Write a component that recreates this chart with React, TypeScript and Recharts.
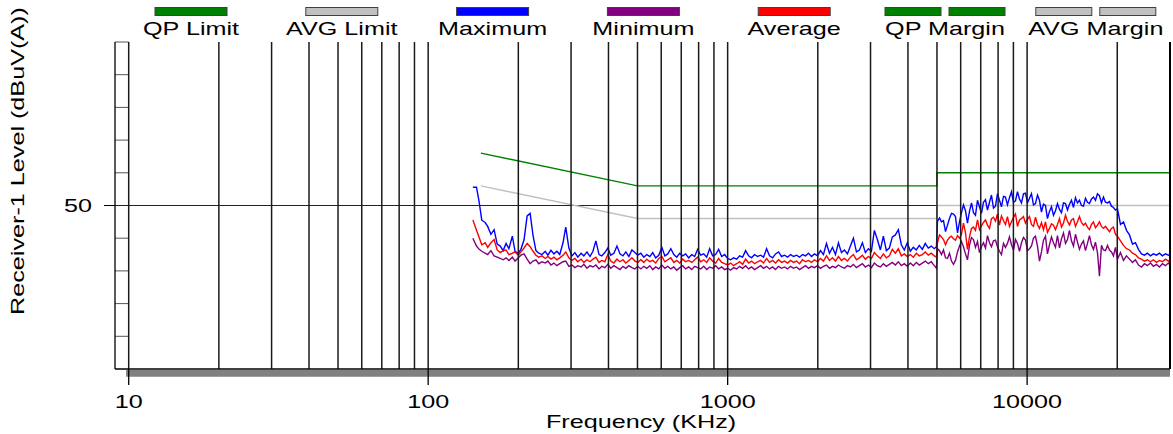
import React from "react";
import { LineChart, Line, XAxis, YAxis, ReferenceLine, ReferenceArea } from "recharts";

// sample frequencies in kHz (band 1: 140k-5M, band 2: 5M-20M, band 3: 20M-30M)
const freqKHz = [
  141, 145, 148, 151, 155, 158, 162, 166, 170, 174,
  178, 182, 186, 191, 195, 200, 204, 209, 214, 219,
  224, 229, 234, 240, 246, 251, 257, 263, 269, 275,
  282, 288, 295, 302, 309, 316, 324, 331, 339, 347,
  355, 363, 372, 380, 389, 398, 407, 417, 427, 437,
  447, 457, 468, 479, 490, 501, 513, 525, 537, 550,
  562, 575, 589, 603, 617, 631, 646, 661, 676, 692,
  708, 724, 741, 759, 776, 794, 813, 832, 851, 871,
  891, 912, 933, 955, 977, 1000, 1023, 1047, 1072, 1096,
  1122, 1148, 1175, 1202, 1230, 1259, 1288, 1318, 1349, 1380,
  1413, 1445, 1479, 1514, 1549, 1585, 1622, 1660, 1698, 1738,
  1778, 1820, 1862, 1905, 1950, 1995, 2042, 2089, 2138, 2188,
  2239, 2291, 2344, 2399, 2455, 2512, 2570, 2630, 2692, 2754,
  2818, 2884, 2951, 3020, 3090, 3162, 3236, 3311, 3388, 3467,
  3548, 3631, 3715, 3802, 3890, 3981, 4074, 4169, 4266, 4365,
  4467, 4571, 4677, 4786, 4898, 4980,
  5020, 5098, 5177, 5257, 5339, 5421, 5505, 5591, 5677, 5765,
  5855, 5945, 6037, 6131, 6226, 6322, 6420, 6520, 6621, 6723,
  6827, 6933, 7040, 7149, 7260, 7373, 7487, 7603, 7721, 7840,
  7962, 8085, 8210, 8338, 8467, 8598, 8731, 8867, 9004, 9144,
  9286, 9430, 9576, 9724, 9875, 10028, 10183, 10341, 10501, 10664,
  10829, 10997, 11167, 11340, 11516, 11694, 11876, 12060, 12247, 12436,
  12629, 12825, 13023, 13225, 13430, 13638, 13849, 14064, 14282, 14503,
  14728, 14956, 15188, 15423, 15662, 15905, 16151, 16401, 16655, 16913,
  17176, 17442, 17712, 17986, 18265, 18548, 18835, 19127, 19423, 19724,
  20030,
  20500, 20980, 21470, 21970, 22480, 23000, 23540, 24090, 24650, 25220,
  25810, 26410, 27030, 27660, 28300, 28960, 29640, 30000,
];

const maxLevel = [
  55.6, 55.6, 51.0, 45.5, 44.8, 43.6, 41.2, 42.6, 38.2, 37.6,
  36.2, 38.4, 36.8, 40.6, 36.0, 35.4, 36.6, 39.5, 46.8, 47.6,
  40.8, 36.2, 35.4, 35.0, 36.0, 34.8, 36.3, 35.2, 36.0, 35.0,
  38.6, 43.4, 37.0, 34.6, 35.6, 34.2, 35.4, 34.6, 35.8, 34.4,
  36.0, 39.2, 35.0, 34.6, 35.6, 37.0, 34.8, 35.4, 37.6, 35.2,
  34.6, 35.8, 34.4, 36.4, 35.6, 34.8, 35.4, 34.2, 35.0, 34.4,
  35.6, 34.0, 34.8, 37.2, 34.6, 35.2, 36.8, 35.0, 34.2, 35.4,
  34.6, 35.2, 34.0, 35.0, 34.4, 36.6, 34.8, 35.2, 34.2, 36.8,
  34.6, 35.0, 36.6, 34.4, 35.0, 33.8, 33.4, 34.0, 33.6, 34.6,
  34.2, 36.2, 34.6, 34.0, 35.0, 34.4, 34.8, 34.2, 36.8, 34.6,
  34.0, 35.2, 35.8, 34.4, 34.8, 34.2, 35.0, 34.4, 34.8, 34.2,
  35.0, 34.6, 35.4, 34.4, 35.2, 34.6, 36.2, 35.0, 38.4, 35.4,
  37.2, 35.0, 38.6, 35.6, 36.4, 35.2, 37.6, 40.0, 35.8, 36.4,
  38.6, 35.6, 36.8, 36.0, 42.4, 39.6, 36.4, 40.6, 36.2, 37.0,
  40.4, 41.0, 42.6, 38.0, 36.4, 38.6, 36.0, 37.2, 36.4, 37.8,
  36.6, 38.4, 37.0, 37.6, 36.8, 37.4,
  45.2, 46.2, 45.0, 45.4, 42.0, 44.0, 46.0, 47.6, 47.4, 46.6,
  41.6, 45.0, 47.8, 50.2, 48.4, 44.6, 48.2, 50.8, 47.8, 47.0,
  51.6, 49.6, 47.6, 51.0, 51.8, 48.6, 51.0, 53.2, 49.2, 49.8,
  53.6, 51.6, 49.6, 52.8, 52.6, 50.2, 52.4, 54.2, 51.0, 51.4,
  54.2, 52.0, 50.8, 53.6, 53.8, 50.8, 52.2, 53.6, 50.2, 50.6,
  53.2, 51.6, 48.0, 50.4, 50.0, 46.0, 48.2, 49.6, 47.0, 48.4,
  50.6, 48.8, 47.8, 50.8, 50.6, 48.6, 50.4, 51.6, 49.4, 52.4,
  50.8, 51.6, 50.0, 49.8, 52.2, 51.0, 50.6, 52.0, 52.6, 51.6,
  53.6, 53.0, 50.8, 52.6, 51.0, 50.8, 51.2, 49.8, 49.4, 48.6,
  49.0,
  44.2, 45.0, 42.4, 41.0, 38.2, 38.6, 36.6, 35.2, 34.8, 35.4,
  34.6, 35.2, 34.8, 35.4, 34.6, 35.2, 34.8, 35.0,
];

const avgLevel = [
  45.6, 42.4, 40.2, 38.0, 38.6, 37.2, 38.6, 39.6, 36.4, 35.6,
  36.2, 36.4, 35.0, 35.4, 35.8, 34.8, 35.8, 37.0, 38.4, 37.4,
  36.0, 34.8, 34.2, 34.6, 33.8, 34.4, 33.6, 34.2, 33.4, 34.0,
  34.8, 35.8, 34.0, 33.2, 33.8, 32.8, 33.6, 32.6, 33.4, 32.8,
  33.6, 34.2, 32.6, 33.2, 32.8, 35.0, 33.0, 32.4, 33.6, 32.8,
  33.4, 32.4, 33.2, 34.0, 33.0, 32.6, 33.4, 32.6, 33.6, 32.8,
  33.2, 32.4, 33.8, 34.4, 32.8, 33.4, 34.0, 32.6, 33.2, 32.4,
  33.6, 32.8, 33.2, 32.6, 33.4, 34.2, 32.8, 33.4, 32.6, 34.0,
  33.0, 32.4, 33.8, 32.6, 32.2, 31.8, 32.4, 31.6, 32.2, 32.8,
  32.0, 33.6, 32.4, 33.0, 32.2, 32.8, 33.2, 32.4, 33.8, 32.6,
  33.2, 32.4, 33.4, 32.6, 33.0, 32.4, 33.2, 32.6, 33.0, 32.2,
  33.4, 32.8, 33.2, 32.6, 33.4, 32.8, 33.8, 33.0, 34.6, 33.2,
  34.0, 33.0, 34.4, 33.2, 33.8, 33.0, 34.2, 35.0, 33.4, 34.0,
  34.8, 33.6, 34.4, 33.8, 35.6, 34.6, 33.8, 35.2, 34.0, 34.6,
  36.6, 35.4, 36.8, 34.6, 35.2, 34.4, 35.0, 34.2, 35.4, 34.6,
  35.0, 35.8, 34.8, 35.4, 34.6, 34.2,
  38.6, 41.0, 40.4, 39.6, 38.0, 39.4, 40.2, 40.6, 39.8, 39.4,
  40.8, 40.0, 41.2, 44.6, 41.6, 36.6, 40.4, 43.0, 43.4, 42.4,
  45.6, 42.6, 43.8, 44.8, 45.6, 44.0, 43.0, 46.0, 46.4, 45.2,
  47.4, 44.0, 46.8, 45.4, 44.2, 46.6, 43.6, 45.0, 46.4, 47.4,
  43.6, 45.6, 46.0, 46.6, 44.6, 45.8, 46.6, 44.2, 43.6, 46.4,
  44.2, 43.0, 44.8, 42.6, 45.0, 41.8, 43.0, 44.4, 44.0, 42.6,
  44.2, 46.0, 43.4, 44.6, 47.0, 45.2, 44.0, 45.6, 46.0, 43.6,
  45.0, 46.6, 44.8, 44.0, 44.6, 43.4, 42.6, 44.2, 45.0, 43.2,
  44.0, 45.0, 43.6, 43.0, 43.6, 42.8, 42.0, 43.0, 43.4, 41.2,
  40.6,
  39.2, 37.8, 36.8, 36.4, 35.4, 35.0, 34.0, 33.6, 33.0, 33.4,
  32.8, 33.4, 32.6, 33.2, 32.8, 33.6, 33.0, 33.4,
];

const minLevel = [
  40.0, 37.6, 36.6, 36.0, 35.4, 35.0, 36.2, 34.6, 34.2, 33.8,
  33.4, 34.0, 33.2, 34.2, 33.0, 34.0, 34.8, 35.2, 33.6, 32.2,
  33.0, 33.4, 32.2, 32.8, 32.4, 33.0, 31.8, 32.4, 31.6, 32.2,
  32.8, 33.0, 31.4, 31.8, 31.0, 31.6, 31.2, 32.0, 30.8, 31.6,
  31.2, 31.8, 30.6, 31.4, 31.0, 32.0, 30.8, 31.6, 31.0, 30.4,
  31.4, 30.8, 31.6, 31.0, 30.6, 31.4, 30.6, 31.4, 30.8, 31.6,
  30.4, 31.2, 30.6, 31.8, 30.8, 31.4, 30.6, 31.2, 30.2, 31.0,
  31.6, 30.6, 31.2, 30.4, 31.4, 31.0, 30.6, 31.4, 30.4, 31.2,
  30.8, 31.6, 30.6, 31.2, 30.4, 30.8, 30.2, 31.0, 30.6, 31.4,
  30.8, 31.6, 30.6, 31.2, 30.4, 31.0, 31.6, 30.8, 31.4, 30.6,
  31.2, 30.4, 31.4, 30.8, 31.2, 30.6, 31.4, 30.8, 31.2, 30.4,
  31.0, 31.6, 30.8, 31.4, 31.0, 31.6, 30.8, 31.4, 31.8, 30.8,
  31.4, 31.0, 31.8, 31.2, 30.8, 31.6, 31.2, 32.0, 31.0, 31.6,
  32.2, 31.2, 31.8, 31.0, 32.4, 31.6, 31.2, 32.2, 31.4, 32.0,
  32.6, 31.8, 32.8, 31.6, 32.2, 31.4, 32.4, 31.6, 32.6, 31.8,
  32.4, 33.0, 32.2, 32.8, 31.6, 30.8,
  36.8, 36.2, 35.0, 36.4, 34.0, 33.8, 35.4, 33.0, 32.0, 33.2,
  35.8, 37.6, 39.0, 37.4, 35.2, 33.4, 37.8, 40.2, 39.6, 37.2,
  39.0, 35.6, 37.4, 38.6, 37.0, 40.8, 38.6, 37.4, 39.2, 39.4,
  37.4, 36.0, 35.0, 38.4, 37.2, 38.4, 40.4, 38.0, 36.4, 39.6,
  38.4, 36.0, 38.6, 40.2, 39.4, 36.2, 36.8, 37.6, 40.0, 40.6,
  37.6, 33.0, 35.8, 39.4, 40.6, 35.2, 38.0, 40.4, 38.6, 37.2,
  40.8, 37.0, 39.8, 41.6, 38.4, 39.6, 42.4, 39.2, 37.6, 41.2,
  38.8, 36.6, 38.2, 39.2, 36.2, 38.4, 40.8, 38.0, 36.6, 38.8,
  35.6, 28.4, 37.8, 36.4, 36.2, 37.8, 36.4, 35.8, 34.6, 37.2,
  33.6,
  35.6, 33.2, 34.6, 33.6, 32.6, 33.4, 31.8, 31.2, 32.2, 31.6,
  32.4, 31.4, 32.0, 31.2, 32.2, 31.6, 32.4, 31.8,
];

// CISPR style limit lines (kHz, dBuV)
const limitFreq = [150, 500, 5000, 5000, 30000];
const qpLimit = [66, 56, 56, 60, 60];
const avgLimit = [56, 46, 46, 50, 50];

const gridFreqs = [
  10, 20, 30, 40, 50, 60, 70, 80, 90,
  100, 200, 300, 400, 500, 600, 700, 800, 900,
  1000, 2000, 3000, 4000, 5000, 6000, 7000, 8000, 9000,
  10000, 20000,
];
const xTicks = [10, 100, 1000, 10000];
const yMinorTicks = [10, 20, 30, 40, 60, 70, 80, 90, 100];

const legendLabels = ["QP Limit", "AVG Limit", "Maximum", "Minimum", "Average", "QP Margin", "AVG Margin"];
const legendColors = ["#008000", "#c0c0c0", "#0000ff", "#800080", "#ff0000", "#008000", "#c0c0c0"];
const legendPaired = [false, false, false, false, false, true, true];

const W = 1173;
const H = 434;
const FONT = "'Liberation Sans', Arial, Helvetica, sans-serif";
const STRETCH = 1.4;

function XTick({ x, y, payload }: any) {
  return (
    <g>
      <line x1={x} y1={y} x2={x} y2={y + 16} stroke="#000" strokeWidth={1.3} />
      <text
        transform={`translate(${x},${y + 39}) scale(${STRETCH},1)`}
        textAnchor="middle"
        fontFamily={FONT}
        fontSize={18}
        fill="#000"
      >
        {payload.value}
      </text>
    </g>
  );
}

function YTick({ x, y, payload }: any) {
  return (
    <text
      transform={`translate(${x},${y + 6.5}) scale(${STRETCH},1)`}
      textAnchor="end"
      fontFamily={FONT}
      fontSize={18}
      fill="#000"
    >
      {payload.value}
    </text>
  );
}

function Overlay() {
  return (
    <svg width={W} height={H} style={{ position: "absolute", left: 0, top: 0, pointerEvents: "none" }}>
      {legendLabels.map((label, i) => {
        const cx = 191 + 150.8 * i;
        return (
          <g key={label}>
            {legendPaired[i] ? (
              <>
                <rect x={cx - 60} y={7.5} width={56} height={8} fill={legendColors[i]} stroke="#404040" strokeWidth={1} />
                <rect x={cx + 4} y={7.5} width={56} height={8} fill={legendColors[i]} stroke="#404040" strokeWidth={1} />
              </>
            ) : (
              <rect x={cx - 36} y={7.5} width={72} height={8} fill={legendColors[i]} stroke="#404040" strokeWidth={1} />
            )}
            <text
              transform={`translate(${cx},35) scale(${STRETCH},1)`}
              textAnchor="middle"
              fontFamily={FONT}
              fontSize={18}
              fill="#000"
            >
              {label}
            </text>
          </g>
        );
      })}
      <text
        transform={`translate(24,161) rotate(-90) scale(${STRETCH},1)`}
        textAnchor="middle"
        fontFamily={FONT}
        fontSize={18}
        fill="#000"
      >
        Receiver-1 Level (dBuV(A))
      </text>
      <text
        transform={`translate(641,428) scale(${STRETCH},1)`}
        textAnchor="middle"
        fontFamily={FONT}
        fontSize={18}
        fill="#000"
      >
        Frequency (KHz)
      </text>
    </svg>
  );
}

export default function App() {
  const measRows = freqKHz.map((f, i) => ({ f, max: maxLevel[i], avg: avgLevel[i], min: minLevel[i] }));
  const qpRows = limitFreq.map((f, i) => ({ f, v: qpLimit[i] }));
  const avgLimRows = limitFreq.map((f, i) => ({ f, v: avgLimit[i] }));

  return (
    <div style={{ position: "absolute", left: 0, top: 0, width: W, height: H, background: "#fff" }}>
      <LineChart width={W} height={H} margin={{ top: 42, right: 3, bottom: 0, left: 0 }}>
        <XAxis
          dataKey="f"
          type="number"
          scale="log"
          domain={[9, 30000]}
          allowDataOverflow
          ticks={xTicks}
          interval={0}
          height={65}
          tickSize={0}
          tickMargin={0}
          tickLine={false}
          axisLine={{ stroke: "#000", strokeWidth: 1.3 }}
          tick={<XTick />}
        />
        <YAxis
          type="number"
          domain={[0, 100]}
          allowDataOverflow
          ticks={[50]}
          width={115}
          tickSize={11}
          tickMargin={12}
          tickLine={{ stroke: "#000" }}
          axisLine={{ stroke: "#000", strokeWidth: 1.3 }}
          tick={<YTick />}
        />
        <ReferenceArea x1={9.8} x2={30000} y1={-2.4} y2={-0.3} ifOverflow="visible" fill="#808080" fillOpacity={1} stroke="none" />
        {yMinorTicks.map((v) => (
          <ReferenceLine key={"m" + v} segment={[{ x: 9, y: v }, { x: 10, y: v }]} stroke="#555" strokeWidth={1} />
        ))}
        <ReferenceLine y={50} stroke="#222" strokeWidth={1} />
        <Line data={avgLimRows} dataKey="v" type="linear" stroke="#c0c0c0" strokeWidth={1.5} dot={false} isAnimationActive={false} />
        <Line data={qpRows} dataKey="v" type="linear" stroke="#008000" strokeWidth={1.4} dot={false} isAnimationActive={false} />
        <Line data={measRows} dataKey="max" type="linear" stroke="#0000ff" strokeWidth={1.4} dot={false} isAnimationActive={false} />
        <Line data={measRows} dataKey="min" type="linear" stroke="#800080" strokeWidth={1.4} dot={false} isAnimationActive={false} />
        <Line data={measRows} dataKey="avg" type="linear" stroke="#ff0000" strokeWidth={1.4} dot={false} isAnimationActive={false} />
        {gridFreqs.map((f) => (
          <ReferenceLine key={f} x={f} stroke="#1a1a1a" strokeWidth={1.5} />
        ))}
        <ReferenceLine x={30000} stroke="#000" strokeWidth={2} />
      </LineChart>
      <Overlay />
    </div>
  );
}
